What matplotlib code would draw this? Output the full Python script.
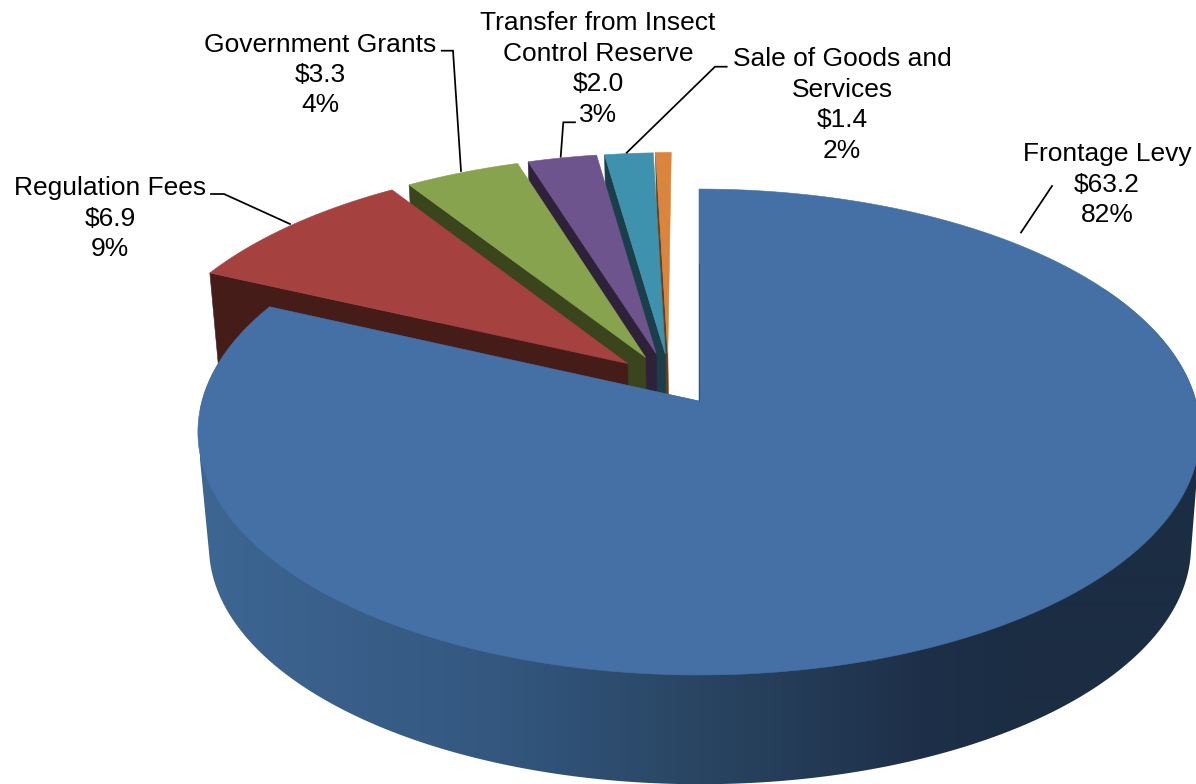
import numpy as np
import matplotlib
matplotlib.use("Agg")
import matplotlib.pyplot as plt
from matplotlib.colors import LinearSegmentedColormap
from matplotlib.patches import Polygon

plt.rcParams["font.family"] = ["Liberation Sans", "DejaVu Sans"]

# Revenue sources, $ millions
categories = ["Frontage Levy", "Regulation Fees", "Government Grants",
              "Transfer from Insect\nControl Reserve", "Sale of Goods and\nServices", "Other"]
values = [63.2, 6.9, 3.3, 2.0, 1.4, 0.45]
percent_labels = [82, 9, 4, 3, 2, None]

top_colors = ["#4470A6", "#A5423F", "#87A34D", "#6E548D", "#3E92AE", "#DB843D"]
wall_colors = ["#2F4F75", "#461C18", "#3A441D", "#2E2139", "#1A3F4B", "#66401A"]

# Explosion of each slice: distance and bearing on the disc
explode = [0.0, 0.217, 0.217, 0.222, 0.214, 0.214]
explode_bearing = [0.0, 317.5, 329.5, 336.5, 341.0, 342.5]
slice_radius = [1.0, 1.0, 1.0, 0.992, 0.995, 0.995]

# Perspective of the disc on the page
PERSP = 0.1276
TOP = dict(cx=699.0, cy=401.0, sx=497.0, sy=239.0)
BOTTOM = dict(cx=700.0, cy=516.0, sx=487.0, sy=234.0)

wall_cmap = LinearSegmentedColormap.from_list(
    "wall", [(0.0, "#3E6693"), (0.3, "#33577F"), (0.5, "#294562"),
             (0.72, "#1E3049"), (0.82, "#1B2D43"), (1.0, "#1B2D43")])


def project(px, py, plane):
    w = 1.0 + PERSP * py
    return plane["cx"] + plane["sx"] * px / w, plane["cy"] - plane["sy"] * py / w


def disc_point(theta_deg, radius, offset):
    t = np.radians(theta_deg)
    return offset[0] + radius * np.sin(t), offset[1] + radius * np.cos(t)


def convex_hull(points):
    pts = sorted(set(points))

    def half(seq):
        out = []
        for p in seq:
            while len(out) >= 2 and ((out[-1][0] - out[-2][0]) * (p[1] - out[-2][1])
                                     - (out[-1][1] - out[-2][1]) * (p[0] - out[-2][0])) <= 0:
                out.pop()
            out.append(p)
        return out[:-1]

    return half(pts) + half(pts[::-1])


fig = plt.figure(figsize=(11.96, 7.84), dpi=100)
ax = fig.add_axes([0, 0, 1, 1])

total = sum(values)
sweeps = [v / total * 360.0 for v in values]
starts = np.concatenate([[0.0], np.cumsum(sweeps)[:-1]])

# Painted from the far slice to the near one, the large slice last
for i in list(range(len(values) - 1, 0, -1)) + [0]:
    b = np.radians(explode_bearing[i])
    off = (explode[i] * np.sin(b), explode[i] * np.cos(b))
    r = slice_radius[i]
    th = np.linspace(starts[i], starts[i] + sweeps[i], max(int(sweeps[i] * 4), 8))

    if i == 0:
        # Outer cylinder wall, shaded from left to right; its outline is the hull of
        # both rims, with the long back chord bent in through the apex
        front = th[th >= 60.0]
        tx, ty = project(*disc_point(front, r, off), TOP)
        bx, by = project(*disc_point(front, r, off), BOTTOM)
        hull = convex_hull([(float(x), float(y)) for x, y in zip(tx, ty)]
                           + [(float(x), float(y)) for x, y in zip(bx, by)])
        lengths = [np.hypot(hull[j][0] - hull[j - 1][0], hull[j][1] - hull[j - 1][1])
                   for j in range(len(hull))]
        longest = int(np.argmax(lengths))
        hull.insert(longest, project(0.0, 0.0, TOP))
        outline = Polygon(hull, closed=True, facecolor="none", edgecolor="none",
                          transform=ax.transData)
        ax.add_patch(outline)
        ramp = np.linspace(0, 1, 1000).reshape(1, -1)
        wall = ax.imshow(ramp, cmap=wall_cmap, extent=(200, 1200, 800, 0), aspect="auto",
                         vmin=0, vmax=1, interpolation="bilinear", zorder=10)
        wall.set_clip_path(outline)
    else:
        # Radial face seen on the start side of an exploded slice
        ct = project(*disc_point(starts[i], r, off), TOP)
        cb = project(*disc_point(starts[i], r, off), BOTTOM)
        at = project(off[0], off[1], TOP)
        ab = project(off[0], off[1], BOTTOM)
        ax.add_patch(Polygon([ct, at, ab, cb], closed=True, facecolor=wall_colors[i],
                             edgecolor=wall_colors[i], lw=0.4, zorder=10 + (6 - i)))

    arc_x, arc_y = project(*disc_point(th, r, off), TOP)
    apex = project(off[0], off[1], TOP)
    verts = [apex] + list(zip(arc_x, arc_y))
    z = 40 if i == 0 else 10 + (6 - i)
    ax.add_patch(Polygon(verts, closed=True, facecolor=top_colors[i],
                         edgecolor=top_colors[i], lw=0.4, zorder=z))

# Dark hairline along the upright edge of the large slice
ax.plot(*zip(project(0, 0, TOP), project(0, 0.62, TOP)), color=wall_colors[0], lw=0.7, zorder=41)

# Data labels
label_pos = [(1107, 184.5), (110, 218.5), (320, 75), (598, 69), (842, 105)]
for name, val, pct, (lx, ly) in zip(categories, values, percent_labels, label_pos):
    ax.text(lx, ly, f"{name}\n${val:.1f}\n{pct}%", ha="center", va="center", fontsize=19.0,
            linespacing=1.34, color="black", zorder=50)

# Leader lines
leaders = [
    [(1021, 232.5), (1052, 186)],
    [(211, 194), (224, 194), (290, 224)],
    [(441.7, 50.7), (453, 50.7), (461, 171)],
    [(575, 122.3), (563.3, 122.3), (560.7, 156.7)],
    [(726.7, 66.7), (715, 66.7), (626.7, 152.7)],
]
for pts in leaders:
    xs, ys = zip(*pts)
    ax.plot(xs, ys, color="black", lw=1.25, zorder=45, solid_joinstyle="miter")

ax.set_xlim(0, 1196)
ax.set_ylim(784, 0)
ax.axis("off")

fig.savefig("out.png", dpi=100, facecolor="white")
